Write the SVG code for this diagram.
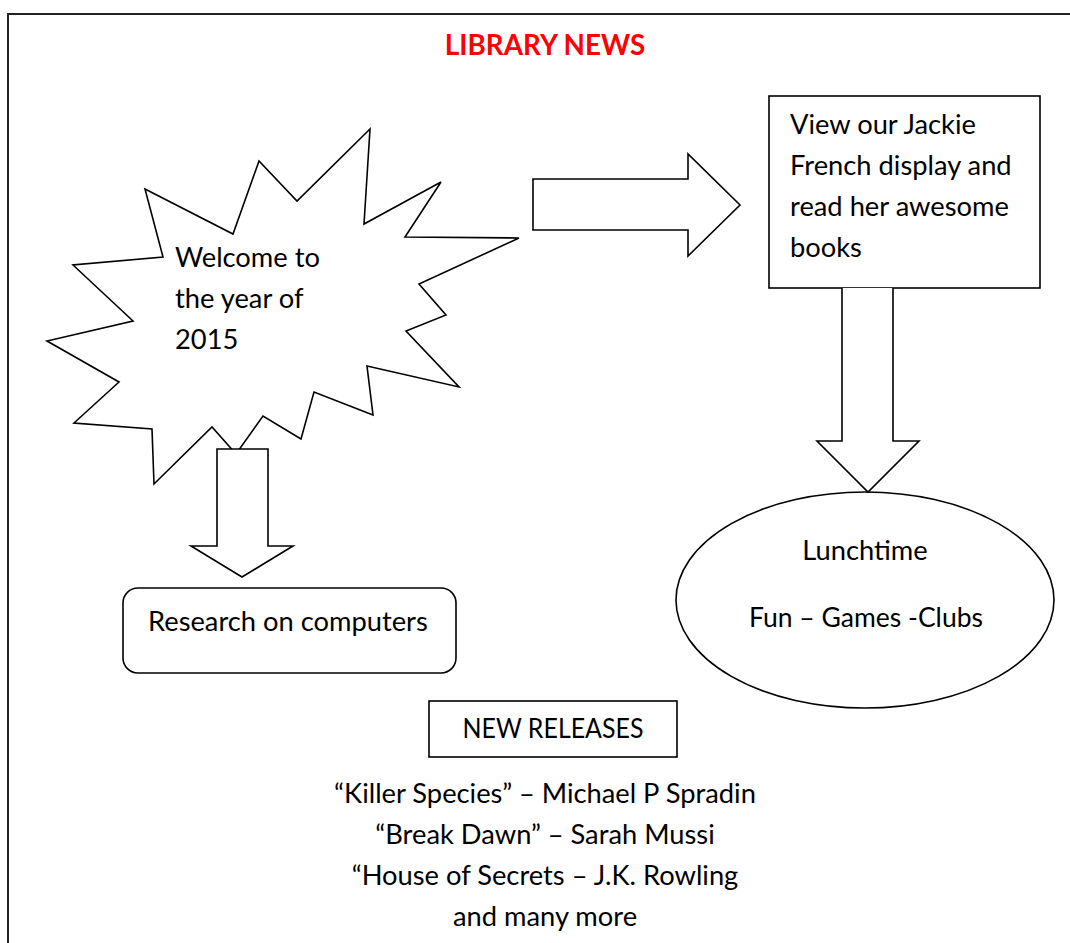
<svg xmlns="http://www.w3.org/2000/svg" width="1070" height="943" viewBox="0 0 1070 943">
<style>
.shape{fill:#fff;stroke:#000;stroke-width:1.6;stroke-linejoin:miter}
.t{font-family:Lato,"Liberation Sans",sans-serif;font-size:27.3px;fill:#000}
.c{text-anchor:middle}
.title{font-family:Lato,"Liberation Sans",sans-serif;font-size:27.8px;font-weight:bold;fill:#ff0000;text-anchor:middle}
</style>
<rect x="0" y="0" width="1070" height="943" fill="#fff"/>
<rect x="8" y="14" width="1100" height="1000" fill="#fff" stroke="#222" stroke-width="2"/>
<g id="title"><text class="title" x="545" y="55">LIBRARY NEWS</text></g>
<g id="welcome">
<polygon class="shape" points="145,189 233,234 259,161 297,201 370,129 364,224 441,182 405,237 519,238 419,284 446,315 406,331 459,387 367,366 373,415 314,392 301,439 263,416 236,454 212,427 154,484 152,429 74,423 119,382 47,341 133,321 73,265 163,257"/>
<text class="t" x="175" y="267">Welcome to</text>
<text class="t" x="175" y="308">the year of</text>
<text class="t" x="175" y="349">2015</text>
</g>
<g id="jackie">
<rect class="shape" x="769" y="96" width="271" height="192"/>
<text class="t" x="790" y="134">View our Jackie</text>
<text class="t" x="790" y="175">French display and</text>
<text class="t" x="790" y="216">read her awesome</text>
<text class="t" x="790" y="257">books</text>
</g>
<g id="lunchtime">
<ellipse class="shape" cx="865" cy="600" rx="189" ry="108"/>
<text class="t c" x="865" y="560">Lunchtime</text>
<text class="t c" x="866" y="627" textLength="234" lengthAdjust="spacingAndGlyphs">Fun – Games -Clubs</text>
</g>
<g id="research">
<rect class="shape" x="123" y="588" width="333" height="85" rx="15" ry="15"/>
<text class="t" x="148" y="631">Research on computers</text>
</g>
<g id="new-releases">
<rect class="shape" x="429" y="701" width="248" height="56"/>
<text class="t c" x="553" y="738" textLength="181" lengthAdjust="spacingAndGlyphs">NEW RELEASES</text>
</g>
<g id="book-list">
<text class="t c" x="545" y="803">“Killer Species” – Michael P Spradin</text>
<text class="t c" x="545" y="844">“Break Dawn” – Sarah Mussi</text>
<text class="t c" x="545" y="885">“House of Secrets – J.K. Rowling</text>
<text class="t c" x="545" y="926">and many more</text>
</g>
<g id="connectors">
<path class="shape" d="M533,179 H688 V154 L740,205 L688,256 V230 H533 Z"/>
<path class="shape" d="M842,288 V441 H817 L868,492 L919,441 H893 V288"/>
<path class="shape" d="M217,449 H268 V546 H293 L242,577 L191,546 H217 Z"/>
</g>
</svg>
